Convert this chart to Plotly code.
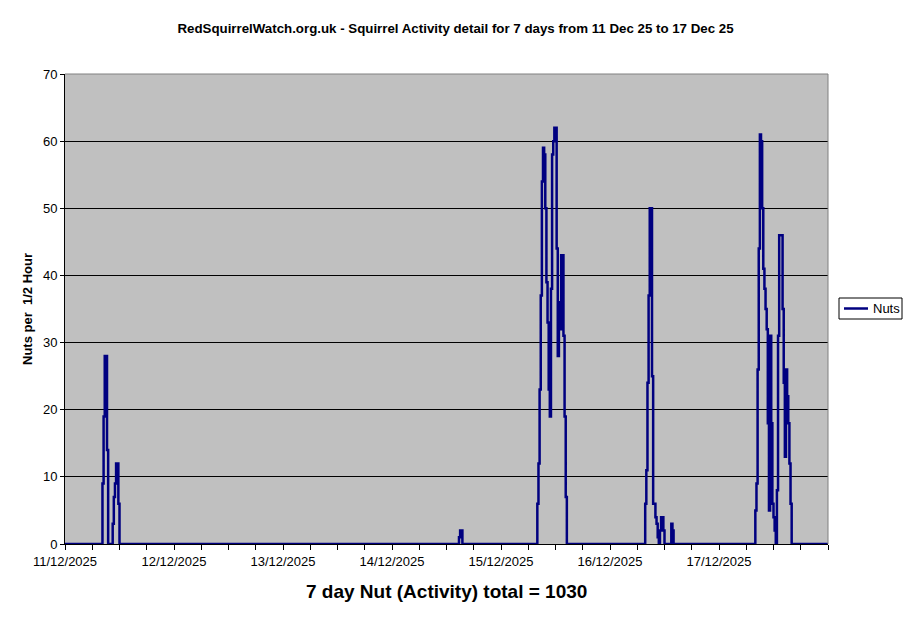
import pandas as pd
import plotly.graph_objects as go

# nuts per 1/2 hour, read every 15 minutes; flat zero between the bursts
burst_a_start = "2025-12-11 08:00"
burst_a = [0, 9, 19, 28, 28, 14, 0, 0, 0, 0, 3, 7, 9, 12, 12, 6, 0]
burst_b_start = "2025-12-14 14:30"
burst_b = [0, 1, 2, 2, 0]
burst_c_start = "2025-12-15 07:45"
burst_c = [0, 6, 12, 23, 37, 54, 59, 58, 50, 39, 33, 23, 19, 38, 58, 60, 62, 62,
           44, 28, 36, 32, 43, 43, 31, 19, 7, 0]
burst_d_start = "2025-12-16 07:30"
burst_d = [0, 6, 11, 24, 37, 50, 50, 25, 6, 6, 4, 3, 1, 0, 2, 4, 4, 2, 0]
burst_e_start = "2025-12-16 13:15"
burst_e = [0, 3, 2, 0]
burst_f_start = "2025-12-17 07:45"
burst_f = [0, 5, 9, 26, 44, 61, 60, 50, 41, 38, 35, 32, 18, 5, 31, 18, 6, 4, 2, 0,
           8, 31, 46, 46, 46, 35, 24, 13, 26, 22, 18, 12, 6, 0]

period_start = "2025-12-11 00:00"
period_end = "2025-12-18 00:00"
day_ticks = ["2025-12-11", "2025-12-12", "2025-12-13", "2025-12-14",
             "2025-12-15", "2025-12-16", "2025-12-17"]
day_labels = ["11/12/2025", "12/12/2025", "13/12/2025", "14/12/2025",
              "15/12/2025", "16/12/2025", "17/12/2025"]
week_total = 1030

bursts = [(burst_a_start, burst_a), (burst_b_start, burst_b), (burst_c_start, burst_c),
          (burst_d_start, burst_d), (burst_e_start, burst_e), (burst_f_start, burst_f)]

times = [pd.Timestamp(period_start)]
nuts = [0]
for start, vals in bursts:
    times += list(pd.date_range(start, periods=len(vals), freq="15min"))
    nuts += vals
times.append(pd.Timestamp(period_end))
nuts.append(0)

NAVY = "#000080"

fig = go.Figure()
fig.add_trace(go.Scatter(x=times, y=nuts, mode="lines", name="Nuts",
                         line=dict(color=NAVY, width=2.5, shape="hv", simplify=False)))

# page body has an 8px margin, so the figure is sized to sit inside it
W, H = 895, 607
fig.update_layout(
    width=W, height=H,
    margin={"l": 57, "r": 75, "t": 66, "b": 71},
    paper_bgcolor="white", plot_bgcolor="#c0c0c0",
    font=dict(family="Arial, Liberation Sans, sans-serif", size=13, color="black"),
    title=dict(text="<b>RedSquirrelWatch.org.uk - Squirrel Activity detail for 7 days from 11 Dec 25 to 17 Dec 25</b>",
               font=dict(size=13.3), x=0.5, xref="container", xanchor="center",
               y=1 - 20 / H, yref="container", yanchor="middle"),
    showlegend=False,
)

fig.update_xaxes(type="date", range=[period_start, period_end],
                 tickmode="array", tickvals=day_ticks, ticktext=day_labels,
                 ticks="outside", ticklen=5, tickcolor="black",
                 showline=True, linecolor="black", linewidth=1, showgrid=False,
                 minor=dict(tickmode="linear", tick0=period_start, dtick=6 * 3600 * 1000,
                            ticks="outside", ticklen=5, tickcolor="black", showgrid=False))
fig.update_yaxes(range=[0, 70], dtick=10, ticks="outside", ticklen=4, tickcolor="black",
                 showline=True, linecolor="black", linewidth=1,
                 showgrid=True, gridcolor="black", gridwidth=1, zeroline=False)

# grey plot-area border on top and right, like the original
fig.add_shape(type="line", xref="paper", yref="paper", x0=0, x1=1, y0=1, y1=1,
              line=dict(color="#808080", width=1), layer="above")
fig.add_shape(type="line", xref="paper", yref="paper", x0=1, x1=1, y0=0, y1=1,
              line=dict(color="#808080", width=1), layer="above")

# boxed legend to the right of the plot (pixel offsets from the plot area)
pw, ph = 763, 470
def px_x(p):
    return p / pw + 1
def px_y(p):
    return 0.5 + p / ph

fig.add_shape(type="rect", xref="paper", yref="paper",
              x0=px_x(11), x1=px_x(74), y0=px_y(-10), y1=px_y(11),
              line=dict(color="black", width=1), fillcolor="white", layer="above")
fig.add_shape(type="line", xref="paper", yref="paper",
              x0=px_x(16), x1=px_x(40), y0=px_y(0.5), y1=px_y(0.5),
              line=dict(color=NAVY, width=2.5), layer="above")
fig.add_annotation(text="Nuts", showarrow=False, xref="paper", yref="paper",
                   x=px_x(43), y=px_y(0.5), xanchor="left", yanchor="middle",
                   font=dict(size=13))

fig.add_annotation(text="<b>Nuts per  1/2 Hour</b>", textangle=-90, showarrow=False,
                   xref="paper", yref="paper", x=0, y=0.5, xshift=-38,
                   xanchor="center", yanchor="middle", font=dict(size=13))
fig.add_annotation(text="<b>7 day Nut (Activity) total = {}</b>".format(week_total),
                   showarrow=False, xref="paper", yref="paper", x=0.5, y=0, yshift=-47,
                   xanchor="center", yanchor="middle", font=dict(size=19))

fig.write_html("out.html")
